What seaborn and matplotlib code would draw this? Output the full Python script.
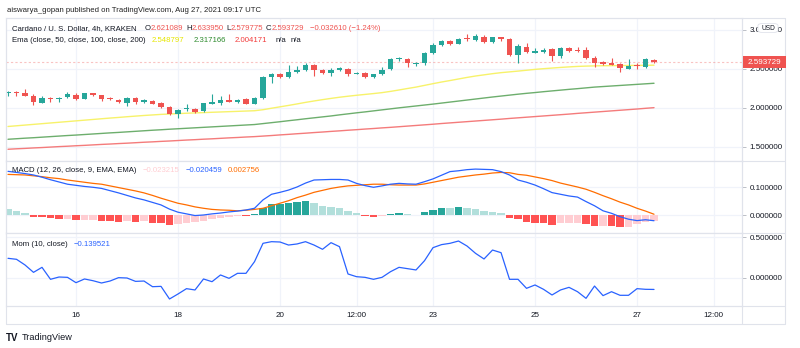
import numpy as np
import pandas as pd
import matplotlib
matplotlib.use("Agg")
import matplotlib.pyplot as plt
from matplotlib.patches import Rectangle, FancyBboxPatch
from matplotlib.lines import Line2D
import seaborn as sns

sns.set_theme(style="white")
plt.rcParams['font.family'] = ['Liberation Sans', 'DejaVu Sans']

# ---------------- data (4h candles, Aug 14 16:00 .. Aug 27 08:00) ----------------
opens = [2.192, 2.205, 2.192, 2.154, 2.068, 2.128, 2.120, 2.137, 2.171, 2.115,
         2.192, 2.167, 2.128, 2.107, 2.068, 2.128, 2.081, 2.094, 2.060, 2.013,
         1.923, 1.983, 1.992, 1.960, 2.053, 2.062, 2.107, 2.083, 2.117, 2.056,
         2.122, 2.393, 2.440, 2.393, 2.462, 2.481, 2.553, 2.493, 2.453, 2.493,
         2.506, 2.441, 2.447, 2.402, 2.430, 2.500, 2.624, 2.628, 2.562, 2.573,
         2.703, 2.808, 2.855, 2.822, 2.893, 2.875, 2.915, 2.840, 2.906, 2.885,
         2.680, 2.786, 2.709, 2.722, 2.752, 2.667, 2.765, 2.748, 2.744, 2.637,
         2.594, 2.572, 2.564, 2.504, 2.547, 2.530, 2.621089]
highs = [2.222, 2.214, 2.248, 2.180, 2.150, 2.141, 2.141, 2.205, 2.192, 2.197,
         2.197, 2.171, 2.137, 2.115, 2.137, 2.137, 2.115, 2.107, 2.073, 2.026,
         1.987, 2.051, 2.000, 2.068, 2.175, 2.155, 2.184, 2.120, 2.124, 2.141,
         2.410, 2.445, 2.453, 2.555, 2.540, 2.572, 2.564, 2.504, 2.510, 2.520,
         2.517, 2.466, 2.457, 2.440, 2.520, 2.640, 2.658, 2.641, 2.594, 2.722,
         2.829, 2.872, 2.872, 2.897, 2.955, 2.950, 2.940, 2.914, 2.914, 2.893,
         2.820, 2.838, 2.765, 2.765, 2.765, 2.786, 2.786, 2.786, 2.786, 2.667,
         2.607, 2.637, 2.581, 2.624, 2.581, 2.636, 2.633950]
lows = [2.149, 2.149, 2.149, 2.034, 2.060, 2.077, 2.077, 2.128, 2.107, 2.111,
        2.154, 2.094, 2.102, 2.060, 2.030, 2.051, 2.068, 2.047, 2.000, 1.910,
        1.872, 1.962, 1.940, 1.953, 2.047, 2.040, 2.073, 2.068, 2.051, 2.047,
        2.110, 2.318, 2.385, 2.385, 2.445, 2.475, 2.404, 2.440, 2.410, 2.480,
        2.406, 2.432, 2.385, 2.380, 2.420, 2.490, 2.607, 2.521, 2.543, 2.547,
        2.693, 2.795, 2.804, 2.820, 2.862, 2.865, 2.830, 2.830, 2.860, 2.667,
        2.581, 2.700, 2.700, 2.710, 2.607, 2.636, 2.722, 2.722, 2.624, 2.530,
        2.550, 2.547, 2.466, 2.496, 2.496, 2.510, 2.579775]
closes = [2.205, 2.188, 2.154, 2.077, 2.128, 2.111, 2.132, 2.180, 2.115, 2.192,
          2.171, 2.120, 2.111, 2.077, 2.124, 2.077, 2.098, 2.055, 2.017, 1.923,
          1.979, 1.994, 1.949, 2.060, 2.075, 2.107, 2.083, 2.105, 2.056, 2.130,
          2.397, 2.436, 2.393, 2.466, 2.485, 2.553, 2.493, 2.451, 2.491, 2.513,
          2.438, 2.451, 2.395, 2.436, 2.489, 2.628, 2.637, 2.573, 2.577, 2.711,
          2.808, 2.857, 2.816, 2.885, 2.882, 2.920, 2.840, 2.906, 2.887, 2.682,
          2.795, 2.714, 2.731, 2.744, 2.667, 2.765, 2.731, 2.735, 2.637, 2.581,
          2.564, 2.555, 2.509, 2.538, 2.538, 2.624, 2.593729]

ema50 = [1.763, 1.772, 1.781, 1.790, 1.799, 1.808, 1.817, 1.826, 1.835, 1.844,
         1.853, 1.862, 1.871, 1.879, 1.888, 1.896, 1.904, 1.911, 1.918, 1.923,
         1.928, 1.933, 1.937, 1.941, 1.945, 1.949, 1.953, 1.957, 1.961, 1.965,
         1.978, 1.997, 2.015, 2.033, 2.052, 2.072, 2.090, 2.107, 2.123, 2.138,
         2.151, 2.163, 2.174, 2.185, 2.197, 2.213, 2.231, 2.250, 2.268, 2.290,
         2.312, 2.333, 2.352, 2.372, 2.392, 2.410, 2.425, 2.440, 2.453, 2.463,
         2.473, 2.484, 2.495, 2.504, 2.512, 2.520, 2.527, 2.533, 2.537, 2.540,
         2.542, 2.543, 2.544, 2.545, 2.546, 2.547, 2.548797]
ema100 = [1.599, 1.606, 1.613, 1.619, 1.626, 1.633, 1.640, 1.647, 1.653, 1.660,
          1.667, 1.674, 1.681, 1.687, 1.694, 1.701, 1.708, 1.715, 1.721, 1.728,
          1.734, 1.740, 1.746, 1.752, 1.758, 1.764, 1.770, 1.776, 1.782, 1.788,
          1.800, 1.812, 1.824, 1.837, 1.849, 1.862, 1.874, 1.886, 1.898, 1.912,
          1.925, 1.938, 1.950, 1.963, 1.976, 1.989, 2.002, 2.014, 2.026, 2.038,
          2.050, 2.063, 2.076, 2.089, 2.102, 2.115, 2.128, 2.141, 2.153, 2.165,
          2.177, 2.188, 2.198, 2.209, 2.219, 2.229, 2.239, 2.248, 2.258, 2.268,
          2.275, 2.282, 2.289, 2.296, 2.303, 2.310, 2.317166]
ema200 = [1.471, 1.477, 1.482, 1.488, 1.493, 1.499, 1.505, 1.510, 1.516, 1.521,
          1.527, 1.533, 1.538, 1.544, 1.549, 1.555, 1.561, 1.566, 1.572, 1.577,
          1.583, 1.589, 1.594, 1.600, 1.605, 1.611, 1.617, 1.622, 1.628, 1.633,
          1.640, 1.647, 1.655, 1.662, 1.670, 1.677, 1.685, 1.692, 1.700, 1.707,
          1.715, 1.722, 1.730, 1.737, 1.745, 1.752, 1.760, 1.768, 1.776, 1.784,
          1.792, 1.801, 1.809, 1.817, 1.825, 1.833, 1.841, 1.849, 1.857, 1.866,
          1.874, 1.882, 1.890, 1.898, 1.906, 1.914, 1.922, 1.931, 1.939, 1.947,
          1.955, 1.963, 1.971, 1.979, 1.987, 1.996, 2.004171]

macd = [0.156, 0.152, 0.148, 0.143, 0.135, 0.126, 0.118, 0.110, 0.106, 0.102,
        0.099, 0.095, 0.087, 0.079, 0.070, 0.061, 0.054, 0.045, 0.036, 0.021,
        0.010, 0.004, -0.002, 0.000, 0.004, 0.007, 0.011, 0.014, 0.018, 0.024,
        0.054, 0.074, 0.081, 0.089, 0.100, 0.114, 0.125, 0.126, 0.127, 0.127,
        0.125, 0.113, 0.105, 0.099, 0.104, 0.110, 0.113, 0.111, 0.110, 0.119,
        0.129, 0.142, 0.155, 0.158, 0.162, 0.164, 0.163, 0.162, 0.155, 0.143,
        0.125, 0.117, 0.107, 0.094, 0.080, 0.074, 0.068, 0.064, 0.048, 0.033,
        0.015, 0.006, -0.006, -0.015, -0.020, -0.017, -0.020459]
signal = [0.145, 0.144, 0.143, 0.140, 0.137, 0.133, 0.130, 0.125, 0.121, 0.117,
          0.113, 0.110, 0.104, 0.098, 0.092, 0.086, 0.079, 0.070, 0.060, 0.051,
          0.042, 0.036, 0.029, 0.024, 0.020, 0.018, 0.017, 0.015, 0.017, 0.020,
          0.024, 0.033, 0.042, 0.051, 0.062, 0.071, 0.081, 0.088, 0.095, 0.100,
          0.104, 0.106, 0.108, 0.110, 0.110, 0.108, 0.107, 0.107, 0.107, 0.111,
          0.117, 0.123, 0.129, 0.135, 0.139, 0.143, 0.146, 0.150, 0.152, 0.151,
          0.145, 0.142, 0.136, 0.130, 0.123, 0.114, 0.107, 0.100, 0.092, 0.081,
          0.069, 0.058, 0.046, 0.036, 0.024, 0.014, 0.002756]
histogram = [0.021, 0.014, 0.007, -0.006, -0.008, -0.012, -0.015, -0.015, -0.019, -0.018,
             -0.018, -0.020, -0.023, -0.024, -0.021, -0.024, -0.021, -0.027, -0.030, -0.036,
             -0.032, -0.030, -0.026, -0.020, -0.014, -0.010, -0.006, -0.004, -0.005, 0.002,
             0.024, 0.038, 0.040, 0.044, 0.046, 0.050, 0.042, 0.033, 0.029, 0.024,
             0.014, 0.006, -0.003, -0.006, -0.002, 0.003, 0.006, 0.002, 0.001, 0.010,
             0.018, 0.026, 0.025, 0.029, 0.026, 0.021, 0.015, 0.012, 0.007, -0.012,
             -0.015, -0.024, -0.027, -0.030, -0.036, -0.030, -0.030, -0.027, -0.033, -0.039,
             -0.039, -0.040, -0.044, -0.042, -0.033, -0.026, -0.023215]
mom = [0.240, 0.228, 0.159, 0.069, 0.130, -0.016, 0.012, 0.008, -0.057, -0.012,
       -0.033, -0.061, -0.037, 0.004, 0.000, -0.041, -0.037, -0.106, -0.102, -0.256,
       -0.195, -0.130, -0.146, -0.012, -0.045, 0.037, -0.004, 0.057, 0.057, 0.199,
       0.423, 0.443, 0.439, 0.402, 0.415, 0.443, 0.402, 0.350, 0.431, 0.382,
       0.049, 0.016, 0.008, -0.016, 0.008, 0.077, 0.130, 0.114, 0.098, 0.211,
       0.370, 0.407, 0.423, 0.451, 0.390, 0.301, 0.232, 0.341, 0.309, -0.016,
       -0.016, -0.126, -0.085, -0.138, -0.207, -0.146, -0.114, -0.167, -0.248, -0.098,
       -0.215, -0.167, -0.211, -0.211, -0.130, -0.138, -0.139521]

tick_pos = [8, 20, 32, 41, 50, 62, 74, 83]
tick_labels = ["16", "18", "20", "12:00", "23", "25", "27", "12:00"]
price_ticks = [1.5, 2.0, 2.5, 3.0]
macd_ticks = [0.0, 0.1]
mom_ticks = [0.0, 0.5]

# ---------------- styling ----------------
UP, DN = '#26a69a', '#ef5350'
TXT = '#131722'
GRID = '#f0f3fa'
BORDER = '#e0e3eb'
FS = 5.6

df = pd.DataFrame({'i': np.arange(len(closes)), 'o': opens, 'h': highs, 'l': lows,
                   'c': closes, 'e50': ema50, 'e100': ema100, 'e200': ema200,
                   'macd': macd, 'sig': signal, 'hst': histogram, 'mom': mom})

W, H = 800, 348
fig = plt.figure(figsize=(W / 100, H / 100), dpi=100)
fig.patch.set_facecolor('white')


def axes_px(x0, y0, x1, y1):
    return fig.add_axes([x0 / W, 1 - y1 / H, (x1 - x0) / W, (y1 - y0) / H])


ax1 = axes_px(6, 18, 742, 161)
ax2 = axes_px(6, 161, 742, 233)
ax3 = axes_px(6, 233, 742, 306)

XL = (-0.235, 86.35)
for ax in (ax1, ax2, ax3):
    ax.set_facecolor('white')
    ax.set_xlim(*XL)
    ax.set_xticks(tick_pos)
    ax.grid(True, color=GRID, lw=0.9)
    ax.yaxis.tick_right()
    ax.tick_params(axis='y', which='both', length=3, width=0.6, color='#b2b5be',
                   pad=2.5, labelsize=5.8, labelcolor=TXT)
    ax.tick_params(axis='x', length=0, labelsize=5.8, labelcolor=TXT)
    for s in ax.spines.values():
        s.set_color(BORDER)
        s.set_linewidth(0.8)
    ax.set_axisbelow(True)

ax1.set_xticklabels([])
ax2.set_xticklabels([])
ax3.set_xticklabels(tick_labels)
ax3.tick_params(axis='x', pad=4)

# ---- main pane ----
ax1.set_ylim(1.3205, 3.1538)
ax1.set_yticks(price_ticks)
ax1.set_yticklabels([f"{v:.6f}" for v in price_ticks])
ax1.axhline(closes[-1], color=DN, alpha=0.35, lw=0.8, ls=(0, (2, 2)), zorder=1)

sns.lineplot(data=df, x='i', y='e200', ax=ax1, color='#f47b7b', lw=1.0, legend=False, zorder=2)
sns.lineplot(data=df, x='i', y='e100', ax=ax1, color='#6dae6d', lw=1.0, legend=False, zorder=2)
sns.lineplot(data=df, x='i', y='e50', ax=ax1, color='#f7f26a', lw=1.0, legend=False, zorder=2)

cols = [UP if c >= o else DN for o, c in zip(df['o'], df['c'])]
ax1.vlines(df['i'], df['l'], df['h'], colors=cols, lw=0.8, zorder=3)
body_bottom = np.minimum(df['o'], df['c'])
body_h = np.maximum(np.abs(df['c'] - df['o']), 0.01)
ax1.bar(df['i'], body_h, bottom=body_bottom, width=0.64, color=cols, linewidth=0, zorder=4)
ax1.set_xlabel('')
ax1.set_ylabel('')

# ---- MACD pane ----
ax2.set_ylim(-0.0643, 0.1929)
ax2.set_yticks(macd_ticks)
ax2.set_yticklabels([f"{v:.6f}" for v in macd_ticks])
hcols = []
for k, v in enumerate(histogram):
    prev = histogram[k - 1] if k > 0 else v + 0.01
    if v >= 0:
        hcols.append('#26a69a' if v > prev else '#b2dfdb')
    else:
        hcols.append('#ffcdd2' if v >= prev else '#ff5252')
ax2.bar(df['i'], df['hst'], width=0.86, color=hcols, linewidth=0, zorder=2)
sns.lineplot(data=df, x='i', y='sig', ax=ax2, color='#ff6d00', lw=0.9, legend=False, zorder=3)
sns.lineplot(data=df, x='i', y='macd', ax=ax2, color='#2962ff', lw=0.9, legend=False, zorder=4)
ax2.set_xlabel('')
ax2.set_ylabel('')

# ---- Mom pane ----
ax3.set_ylim(-0.3415, 0.5488)
ax3.set_yticks(mom_ticks)
ax3.set_yticklabels([f"{v:.6f}" for v in mom_ticks])
sns.lineplot(data=df, x='i', y='mom', ax=ax3, color='#2962ff', lw=0.9, legend=False, zorder=3)
ax3.set_xlabel('')
ax3.set_ylabel('')


# ---- frame lines ----
def hline_px(y, x0, x1, col=BORDER, lw=0.8):
    fig.add_artist(Line2D([x0 / W, x1 / W], [1 - y / H, 1 - y / H], color=col, lw=lw,
                          transform=fig.transFigure, zorder=6))


def vline_px(x, y0, y1, col=BORDER, lw=0.8):
    fig.add_artist(Line2D([x / W, x / W], [1 - y0 / H, 1 - y1 / H], color=col, lw=lw,
                          transform=fig.transFigure, zorder=6))


hline_px(18, 6, 785)
hline_px(161, 6, 785)
hline_px(233, 6, 785)
hline_px(306, 6, 785)
hline_px(324, 6, 785)
vline_px(6, 18, 324)
vline_px(742, 18, 324)
vline_px(785, 18, 324)

# ---- price label & USD badge ----
fig.add_artist(Rectangle((743 / W, 1 - 68 / H), 43 / W, 12 / H, transform=fig.transFigure,
                         facecolor=DN, edgecolor='none', zorder=7))
fig.text(764.5 / W, 1 - 62 / H, f"{closes[-1]:.6f}", color='white', fontsize=5.8,
         ha='center', va='center', zorder=8)
fig.add_artist(FancyBboxPatch((758 / W, 1 - 32.5 / H), 20 / W, 9 / H,
                              boxstyle="round,pad=0,rounding_size=0.006",
                              transform=fig.transFigure, facecolor='white',
                              edgecolor=BORDER, lw=0.6, zorder=7))
fig.text(768 / W, 1 - 28 / H, "USD", color=TXT, fontsize=4.8, ha='center', va='center', zorder=8)

# ---- texts ----
renderer = fig.canvas.get_renderer()


def t(x, y, s, col=TXT, size=FS, **kw):
    return fig.text(x / W, 1 - y / H, s, color=col, fontsize=size, ha='left', va='center',
                    zorder=9, **kw)


def seq(x, y, parts, size=FS):
    """parts: list of (string, colour, gap_px_after)"""
    for s, col, gap in parts:
        tx = t(x, y, s, col, size)
        x += tx.get_window_extent(renderer).width + gap


t(7, 10, "aiswarya_gopan published on TradingView.com, Aug 27, 2021 09:17 UTC", '#222222')

seq(12, 28.5, [("Cardano / U. S. Dollar, 4h, KRAKEN", TXT, 8),
               ("O", TXT, 0.3), (f"{opens[-1]:.6f}", DN, 2.5),
               ("H", TXT, 0.3), (f"{highs[-1]:.6f}", DN, 2.5),
               ("L", TXT, 0.3), (f"{lows[-1]:.6f}", DN, 2.5),
               ("C", TXT, 0.3), (f"{closes[-1]:.6f}", DN, 6),
               ("\u22120.032610 (\u22121.24%)", DN, 0)])

seq(12, 40, [("Ema (close, 50, close, 100, close, 200)", TXT, 6),
             (f"{ema50[-1]:.6f}", '#e6e600', 9),
             (f"{ema100[-1]:.6f}", '#2e8b2e', 9),
             (f"{ema200[-1]:.6f}", '#f23b3b', 8),
             ("n/a", TXT, 5), ("n/a", TXT, 0)])

seq(12, 171, [("MACD (12, 26, close, 9, EMA, EMA)", TXT, 6),
              (f"\u2212{abs(histogram[-1]):.6f}", '#ffcdd2', 6),
              (f"\u2212{abs(macd[-1]):.6f}", '#2962ff', 6),
              (f"{signal[-1]:.6f}", '#ff6d00', 0)])

seq(12, 244, [("Mom (10, close)", TXT, 6),
              (f"\u2212{abs(mom[-1]):.6f}", '#2962ff', 0)])

t(6, 338, "TV", '#131722', size=7.0, fontweight='bold')
t(22, 338, "TradingView", '#131722', size=6.6)

fig.savefig("out.png", dpi=100, facecolor='white')
